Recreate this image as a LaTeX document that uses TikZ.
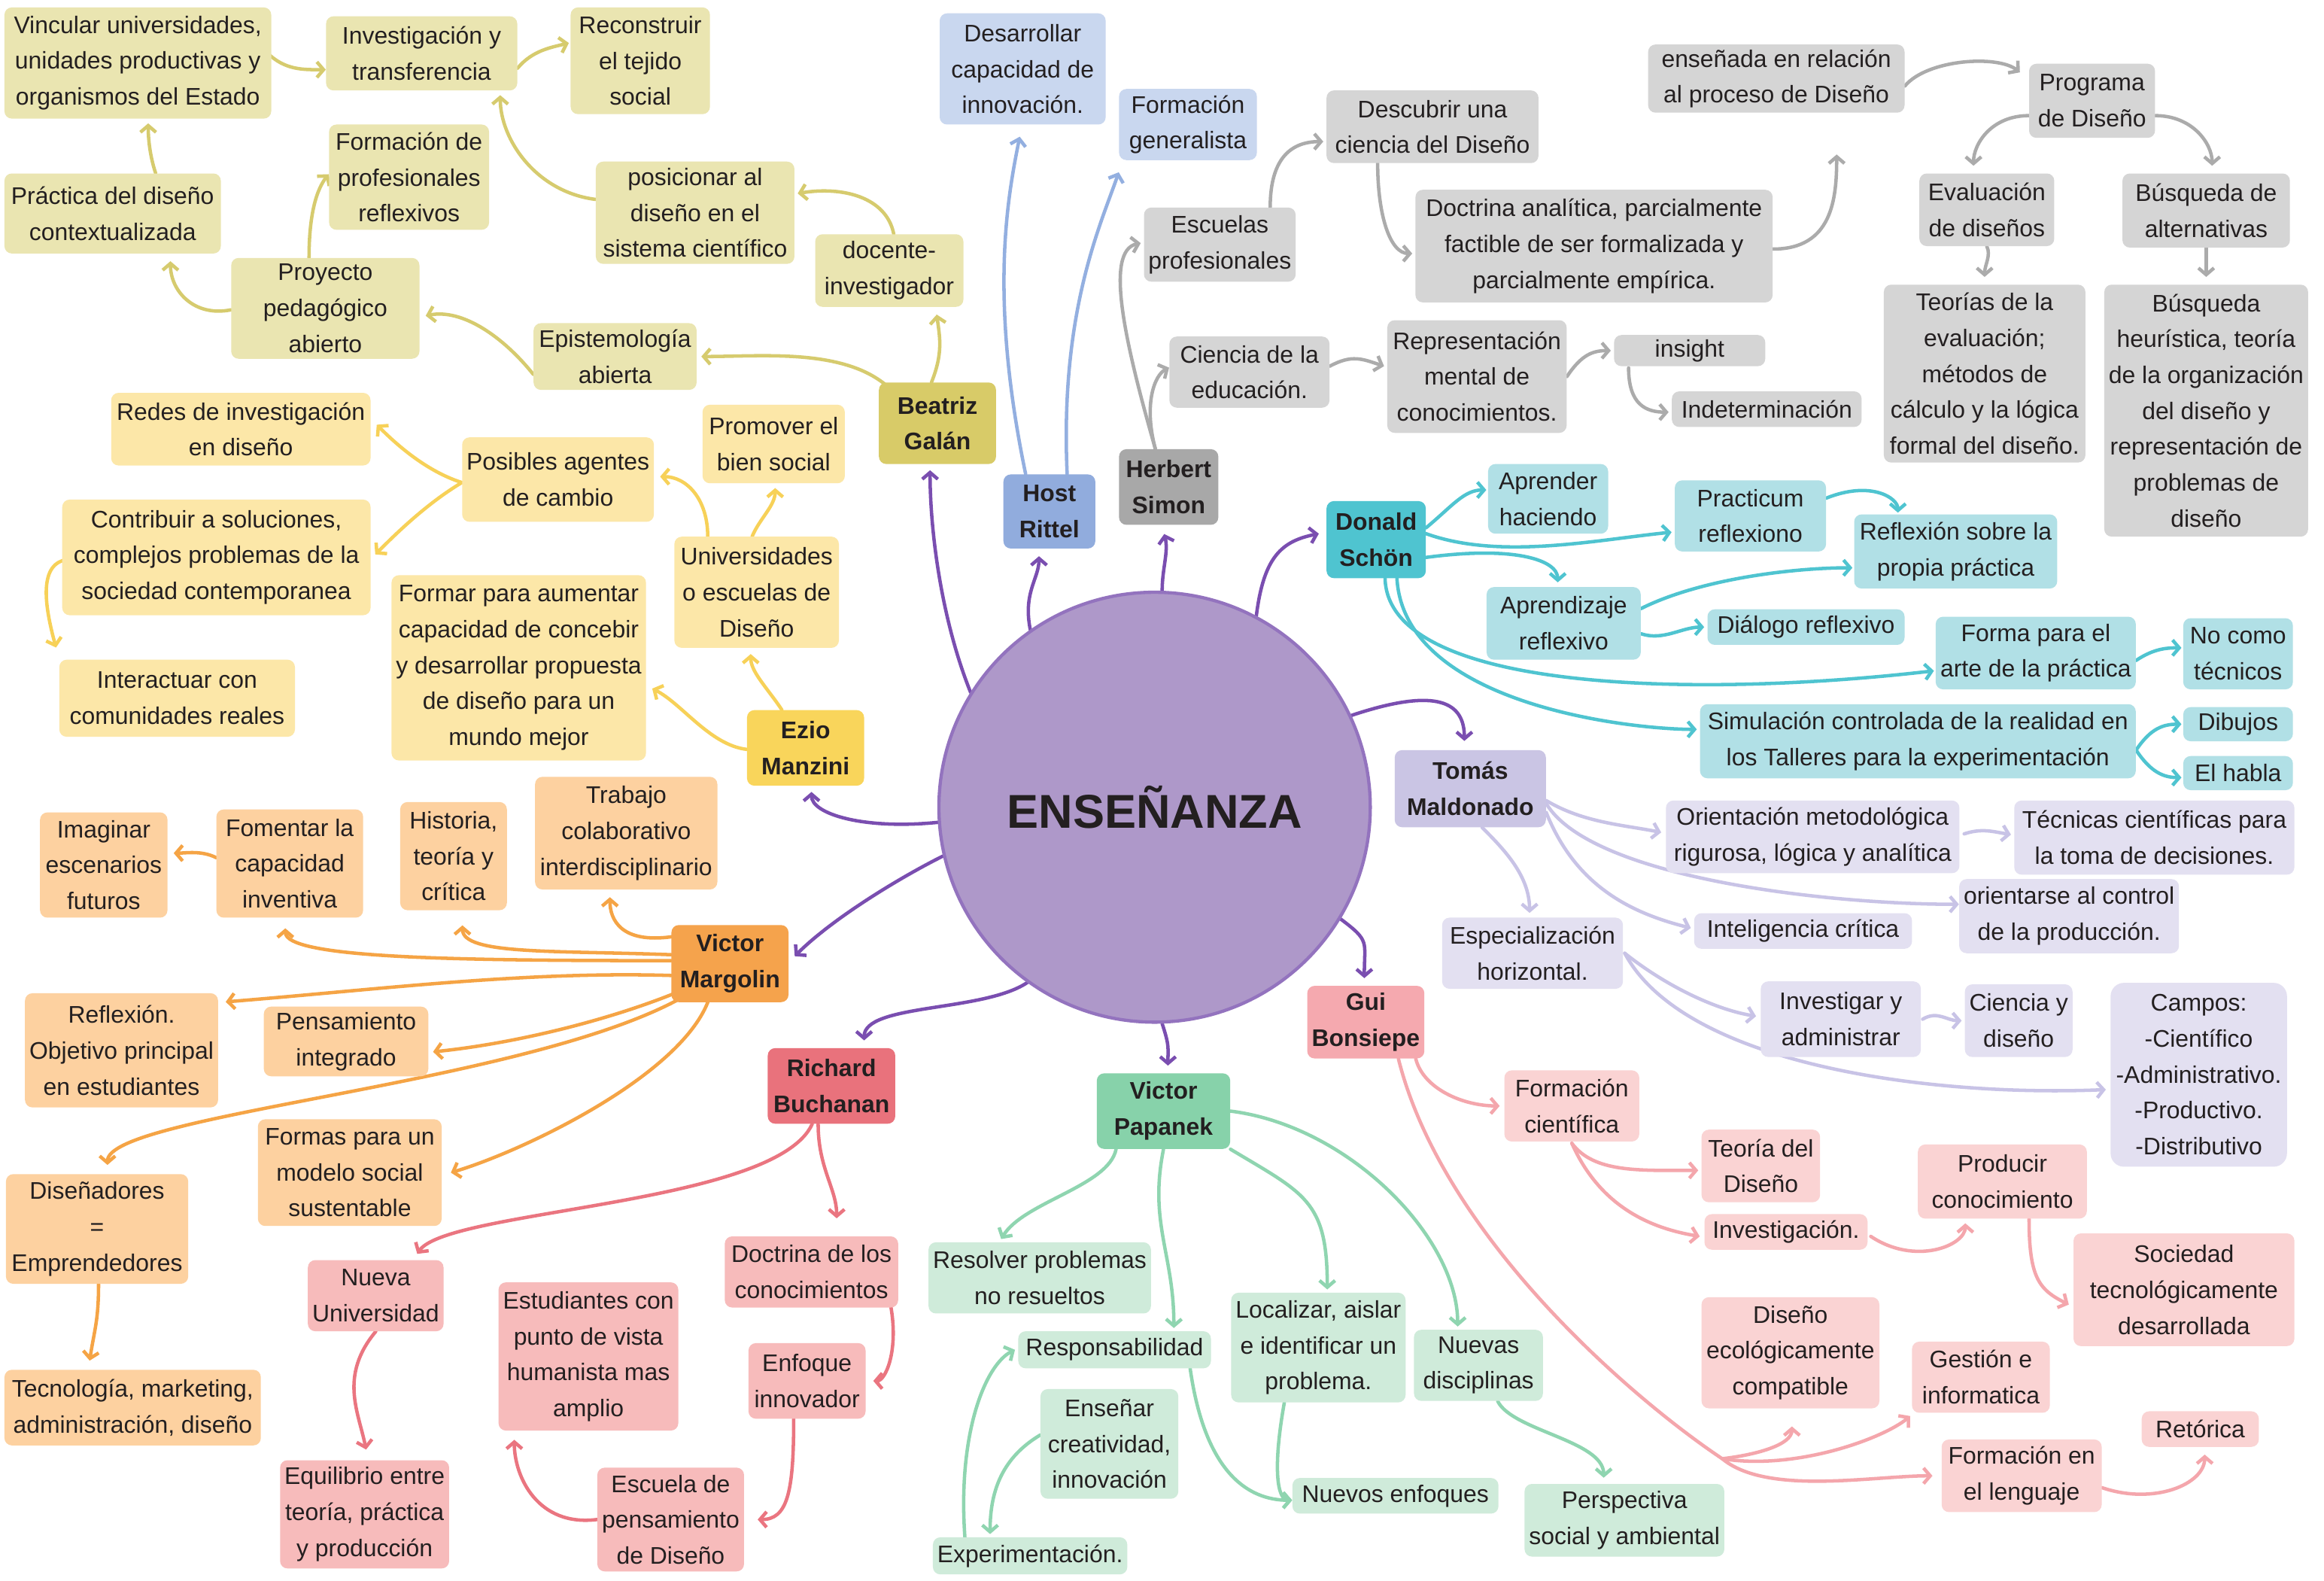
\documentclass[tikz,border=0pt]{standalone}
\usepackage{fontspec}
\setmainfont{Liberation Sans}
\usetikzlibrary{arrows.meta,shapes.geometric,calc}
\pgfdeclarelayer{edges}
\pgfsetlayers{edges,main}

\newcommand{\mfs}{\fontsize{16.2}{24.2}\selectfont}

\definecolor{txt}{HTML}{231F20}
\definecolor{olL}{HTML}{EAE5B1}\definecolor{olD}{HTML}{D8CB68}\definecolor{olA}{HTML}{D6CB6E}
\definecolor{yeL}{HTML}{FCE7A8}\definecolor{yeD}{HTML}{F9D55B}\definecolor{yeA}{HTML}{F7D158}
\definecolor{orL}{HTML}{FDD1A0}\definecolor{orD}{HTML}{F5A34C}\definecolor{orA}{HTML}{F5A445}
\definecolor{reL}{HTML}{F7BBBB}\definecolor{reD}{HTML}{E9727C}\definecolor{reA}{HTML}{EA7580}
\definecolor{grL}{HTML}{CFEBDA}\definecolor{grD}{HTML}{87D2AA}\definecolor{grA}{HTML}{8FD5B0}
\definecolor{piL}{HTML}{FAD3D3}\definecolor{piD}{HTML}{F5A9AF}\definecolor{piA}{HTML}{F4A6AC}
\definecolor{laL}{HTML}{E3E0F1}\definecolor{laD}{HTML}{CAC5E4}\definecolor{laA}{HTML}{C8C3E6}
\definecolor{cyL}{HTML}{B1E0E6}\definecolor{cyD}{HTML}{4FC4D0}\definecolor{cyA}{HTML}{4FC4D0}
\definecolor{gyL}{HTML}{D5D5D5}\definecolor{gyD}{HTML}{A8A8A8}\definecolor{gyA}{HTML}{ABABAB}
\definecolor{blL}{HTML}{C9D7EF}\definecolor{blD}{HTML}{91ACDD}\definecolor{blA}{HTML}{93AFE0}
\definecolor{puA}{HTML}{7A4EB0}
\definecolor{ctrF}{HTML}{AE98C9}\definecolor{ctrB}{HTML}{9373BE}

\tikzset{
  box/.style={rounded corners=5pt, inner xsep=3pt, inner ysep=1pt, align=center, text=txt, font=\mfs},
  root/.style={box, font=\mfs\bfseries},
  sz/.style 2 args={minimum width=#1pt, minimum height=#2pt},
  lnk/.style={line width=2.3pt, line cap=round, -{Straight Barb[length=4.5pt,width=10.5pt]}},
  nOl/.style={box, fill=olL}, rOl/.style={root, fill=olD}, eOl/.style={lnk, draw=olA},
  nYe/.style={box, fill=yeL}, rYe/.style={root, fill=yeD}, eYe/.style={lnk, draw=yeA},
  nOr/.style={box, fill=orL}, rOr/.style={root, fill=orD}, eOr/.style={lnk, draw=orA},
  nRe/.style={box, fill=reL}, rRe/.style={root, fill=reD}, eRe/.style={lnk, draw=reA},
  nGr/.style={box, fill=grL}, rGr/.style={root, fill=grD}, eGr/.style={lnk, draw=grA},
  nPi/.style={box, fill=piL}, rPi/.style={root, fill=piD}, ePi/.style={lnk, draw=piA},
  nLa/.style={box, fill=laL}, rLa/.style={root, fill=laD}, eLa/.style={lnk, draw=laA},
  nCy/.style={box, fill=cyL}, rCy/.style={root, fill=cyD}, eCy/.style={lnk, draw=cyA},
  nGy/.style={box, fill=gyL}, rGy/.style={root, fill=gyD}, eGy/.style={lnk, draw=gyA},
  nBl/.style={box, fill=blL}, rBl/.style={root, fill=blD}, eBl/.style={lnk, draw=blA},
  ePu/.style={lnk, draw=puA},
}

\begin{document}
\begin{tikzpicture}[x=1pt, y=-1pt]
\useasboundingbox (0,0) rectangle (1568,1066);
\begin{pgfonlayer}{edges}
\fill[white] (0,0) rectangle (1568,1066);
\end{pgfonlayer}

% centre
\node[ellipse, fill=ctrF, draw=ctrB, line width=2.2pt, minimum width=278pt, minimum height=290pt,
      font=\fontsize{32}{36}\selectfont\bfseries, text=txt] (cen) at (779,544.5) {ENSEÑANZA};

% Beatriz Galán
\node[nOl, sz={180}{75}] (vinc) at (93,42.5) {Vincular universidades,\\unidades productivas y\\organismos del Estado};
\node[nOl, sz={129}{50}] (invt) at (284.5,36) {Investigación y\\transferencia};
\node[nOl, sz={94}{72}] (recon) at (432,41) {Reconstruir\\el tejido\\social};
\node[nOl, sz={146}{54}] (prac) at (76,144) {Práctica del diseño\\contextualizada};
\node[nOl, sz={108}{71}] (fprof) at (276,119.5) {Formación de\\profesionales\\reflexivos};
\node[nOl, sz={134}{69}] (posic) at (469,143.5) {posicionar al\\diseño en el\\sistema científico};
\node[nOl, sz={100}{49}] (doc) at (600,182.5) {docente-\\investigador};
\node[nOl, sz={127}{68}] (proy) at (219.5,208) {Proyecto\\pedagógico\\abierto};
\node[nOl, sz={110}{45}] (epis) at (415,240.5) {Epistemología\\abierta};
\node[rOl, sz={79}{55}] (bg) at (632.5,285.5) {Beatriz\\Galán};

% Ezio Manzini
\node[nYe, sz={175}{49}] (redes) at (162.5,289.5) {Redes de investigación\\en diseño};
\node[nYe, sz={129}{57}] (posib) at (376.5,323.5) {Posibles agentes\\de cambio};
\node[nYe, sz={96}{53}] (promo) at (522,299.5) {Promover el\\bien social};
\node[nYe, sz={208}{78}] (contr) at (146,376) {Contribuir a soluciones,\\complejos problemas de la\\sociedad contemporanea};
\node[nYe, sz={111}{75}] (univ) at (510.5,399.5) {Universidades\\o escuelas de\\Diseño};
\node[nYe, sz={168}{125}] (formar) at (350,450.5) {Formar para aumentar\\capacidad de concebir\\y desarrollar propuesta\\de diseño para un\\mundo mejor};
\node[nYe, sz={159}{52}] (inter) at (119.5,471) {Interactuar con\\comunidades reales};
\node[rYe, sz={79}{51}] (ezio) at (543.5,504.5) {Ezio\\Manzini};

% Herbert Simon
\node[rGy, sz={67}{51}] (hs) at (788.5,328.5) {Herbert\\Simon};
\node[nGy, sz={100}{50}] (escu) at (823,165) {Escuelas\\profesionales};
\node[nGy, sz={143}{49}] (desc) at (966.5,85.5) {Descubrir una\\ciencia del Diseño};
\node[nGy, sz={241}{76}] (doct) at (1075.5,166) {Doctrina analítica, parcialmente\\factible de ser formalizada y\\parcialmente empírica.};
\node[nGy, sz={173}{46}] (ense) at (1198.5,53) {enseñada en relación\\al proceso de Diseño};
\node[nGy, sz={85}{50}] (prog) at (1411.5,68) {Programa\\de Diseño};
\node[nGy, sz={91}{49}] (eval) at (1340.5,141.5) {Evaluación\\de diseños};
\node[nGy, sz={113}{50}] (busq) at (1488.5,142) {Búsqueda de\\alternativas};
\node[nGy, sz={136}{120}] (teor) at (1339,252) {Teorías de la\\evaluación;\\métodos de\\cálculo y la lógica\\formal del diseño.};
\node[nGy, sz={137}{170}] (heur) at (1488.5,277) {Búsqueda\\heurística, teoría\\de la organización\\del diseño y\\representación de\\problemas de\\diseño};
\node[nGy, sz={108}{48}] (cied) at (843,251) {Ciencia de la\\educación.};
\node[nGy, sz={121}{76}] (repr) at (996.5,254) {Representación\\mental de\\conocimientos.};
\node[nGy, sz={102}{21}] (insi) at (1140,236.5) {insight};
\node[nGy, sz={128}{24}] (inde) at (1192,276) {Indeterminación};

% Host Rittel
\node[rBl, sz={62}{50}] (hr) at (708,345) {Host\\Rittel};
\node[nBl, sz={112}{75}] (desa) at (690,46.5) {Desarrollar\\capacidad de\\innovación.};
\node[nBl, sz={93}{48}] (fgen) at (801.5,84) {Formación\\generalista};

% Donald Schön
\node[rCy, sz={67}{52}] (ds) at (928.5,364) {Donald\\Schön};
\node[nCy, sz={81}{47}] (apre) at (1044.5,336.5) {Aprender\\haciendo};
\node[nCy, sz={102}{48}] (prac2) at (1181,348) {Practicum\\reflexiono};
\node[nCy, sz={137}{50}] (refl) at (1319.5,372) {Reflexión sobre la\\propia práctica};
\node[nCy, sz={104}{49}] (apr2) at (1055,420.5) {Aprendizaje\\reflexivo};
\node[nCy, sz={133}{24}] (dial) at (1218.5,423) {Diálogo reflexivo};
\node[nCy, sz={135}{49}] (forma) at (1373.5,440.5) {Forma para el\\arte de la práctica};
\node[nCy, sz={74}{48}] (nocomo) at (1510,441) {No como\\técnicos};
\node[nCy, sz={294}{50}] (simu) at (1294,500) {Simulación controlada de la realidad en\\los Talleres para la experimentación};
\node[nCy, sz={74}{23}] (dibu) at (1510,488.5) {Dibujos};
\node[nCy, sz={74}{23}] (habla) at (1510,521.5) {El habla};

% Tomás Maldonado
\node[rLa, sz={102}{52}] (tm) at (992,532) {Tomás\\Maldonado};
\node[nLa, sz={198}{49}] (orien) at (1223,564.5) {Orientación metodológica\\rigurosa, lógica y analítica};
\node[nLa, sz={189}{50}] (tecn) at (1453.5,565) {Técnicas científicas para\\la toma de decisiones.};
\node[nLa, sz={148}{50}] (ocont) at (1396,618) {orientarse al control\\de la producción.};
\node[nLa, sz={147}{24}] (intel) at (1216.5,628) {Inteligencia crítica};
\node[nLa, sz={122}{48}] (espe) at (1034,643) {Especialización\\horizontal.};
\node[nLa, sz={108}{51}] (inva) at (1242,687.5) {Investigar y\\administrar};
\node[nLa, sz={72}{49}] (cydi) at (1362,688.5) {Ciencia y\\diseño};
\node[nLa, sz={119}{124}, rounded corners=9pt] (camp) at (1483.5,725) {Campos:\\-Científico\\-Administrativo.\\-Productivo.\\-Distributivo};

% Gui Bonsiepe
\node[rPi, sz={79}{49}] (gb) at (921.5,689.5) {Gui\\Bonsiepe};
\node[nPi, sz={91}{48}] (fcie) at (1060.5,746) {Formación\\científica};
\node[nPi, sz={80}{49}] (tdis) at (1188,786.5) {Teoría del\\Diseño};
\node[nPi, sz={110}{24}] (invs) at (1205,831) {Investigación.};
\node[nPi, sz={114}{50}] (prod) at (1351,797) {Producir\\conocimiento};
\node[nPi, sz={149}{76}] (soc) at (1473.5,870) {Sociedad\\tecnológicamente\\desarrollada};
\node[nPi, sz={120}{75}] (deco) at (1208,912.5) {Diseño\\ecológicamente\\compatible};
\node[nPi, sz={93}{48}] (gest) at (1336.5,929) {Gestión e\\informatica};
\node[nPi, sz={108}{49}] (flen) at (1364,995.5) {Formación en\\el lenguaje};
\node[nPi, sz={79}{24}] (reto) at (1484.5,964) {Retórica};

% Victor Papanek
\node[rGr, sz={90}{51}] (vp) at (785,749.5) {Victor\\Papanek};
\node[nGr, sz={149}{48}] (reso) at (701.5,862) {Resolver problemas\\no resueltos};
\node[nGr, sz={130}{25}] (resp) at (752,910.5) {Responsabilidad};
\node[nGr, sz={115}{74}] (loca) at (889.5,909) {Localizar, aislar\\e identificar un\\problema.};
\node[nGr, sz={87}{48}] (nuev) at (997.5,921) {Nuevas\\disciplinas};
\node[nGr, sz={93}{74}] (ense2) at (748.5,974) {Enseñar\\creatividad,\\innovación};
\node[nGr, sz={139}{24}] (nenf) at (941.5,1009) {Nuevos enfoques};
\node[nGr, sz={132}{49}] (pers) at (1096,1025.5) {Perspectiva\\social y ambiental};
\node[nGr, sz={130}{25}] (expe) at (695,1049.5) {Experimentación.};

% Richard Buchanan
\node[rRe, sz={86}{51}] (rb) at (561,732.5) {Richard\\Buchanan};
\node[nRe, sz={89}{48}] (nuni) at (253.5,874) {Nueva\\Universidad};
\node[nRe, sz={117}{48}] (dcon) at (547.5,858) {Doctrina de los\\conocimientos};
\node[nRe, sz={118}{100}] (estu) at (397,915) {Estudiantes con\\punto de vista\\humanista mas\\amplio};
\node[nRe, sz={79}{51}] (enfo) at (544.5,931.5) {Enfoque\\innovador};
\node[nRe, sz={112}{73}] (equi) at (246,1021.5) {Equilibrio entre\\teoría, práctica\\y producción};
\node[nRe, sz={99}{70}] (escp) at (452.5,1025) {Escuela de\\pensamiento\\de Diseño};

% Victor Margolin
\node[rOr, sz={79}{52}] (vm) at (492.5,650) {Victor\\Margolin};
\node[nOr, sz={86}{71}] (imag) at (70,583.5) {Imaginar\\escenarios\\futuros};
\node[nOr, sz={99}{73}] (fome) at (195.5,582.5) {Fomentar la\\capacidad\\inventiva};
\node[nOr, sz={72}{73}] (hist) at (306,577.5) {Historia,\\teoría y\\crítica};
\node[nOr, sz={123}{76}] (trab) at (422.5,562) {Trabajo\\colaborativo\\interdisciplinario};
\node[nOr, sz={130}{77}] (refx) at (82,708.5) {Reflexión.\\Objetivo principal\\en estudiantes};
\node[nOr, sz={111}{47}] (pens) at (233.5,702.5) {Pensamiento\\integrado};
\node[nOr, sz={124}{72}] (form2) at (236,791) {Formas para un\\modelo social\\sustentable};
\node[nOr, sz={123}{74}] (dise) at (65.5,829) {Diseñadores\\=\\Emprendedores};
\node[nOr, sz={173}{51}] (tecm) at (89.5,949.5) {Tecnología, marketing,\\administración, diseño};

\coordinate (gsplit) at (1162,984);

\begin{pgfonlayer}{edges}
% Beatriz Galán
\draw[eOl] ($(vinc.east)+(-3,-7)$) .. controls +(12,12) and +(-15,0) .. ($(invt.west)+(0,11)$);
\draw[eOl] ($(invt.east)+(0,10)$) .. controls +(10,-12) and +(-12,3) .. ($(recon.west)+(-1,-12)$);
\draw[eOl] ($(posic.west)+(0,-9)$) .. controls +(-40,-5) and +(0,30) .. ($(invt.south)+(53,3)$);
\draw[eOl] ($(doc.north)+(3,0)$) .. controls +(-5,-25) and +(30,-5) .. ($(posic.east)+(2,-13)$);
\draw[eOl] ($(bg.north)+(-4,0)$) .. controls +(8,-20) and +(2,15) .. ($(doc.south)+(32,5)$);
\draw[eOl] ($(bg.north west)+(5,2)$) .. controls +(-30,-25) and +(40,0) .. ($(epis.east)+(3,0)$);
\draw[eOl] ($(epis.west)+(0,12)$) .. controls +(-20,-25) and +(25,-5) .. ($(proy.east)+(4,5)$);
\draw[eOl] ($(proy.west)+(0,1)$) .. controls +(-25,5) and +(0,20) .. ($(prac.south)+(39,5)$);
\draw[eOl] ($(proy.north)+(-11,0)$) .. controls +(0,-30) and +(-8,10) .. ($(fprof.west)+(0,-2)$);
\draw[eOl] ($(prac.north)+(29,0)$) .. controls +(-4,-12) and +(0,10) .. ($(vinc.south)+(7,3)$);

% Ezio Manzini
\draw[eYe] ($(ezio.north)+(-16,0)$) .. controls +(-10,-15) and +(0,12) .. ($(univ.south)+(-4,4)$);
\draw[eYe] ($(ezio.west)+(0,1)$) .. controls +(-25,-3) and +(20,10) .. ($(formar.east)+(4,14)$);
\draw[eYe] ($(univ.north)+(-3,0)$) .. controls +(5,-12) and +(0,12) .. ($(promo.south)+(1,3)$);
\draw[eYe] ($(univ.north)+(-33,0)$) .. controls +(0,-25) and +(18,0) .. ($(posib.east)+(4,-2)$);
\draw[eYe] ($(posib.west)+(0,2)$) .. controls +(-25,-8) and +(12,12) .. ($(redes.east)+(4,-3)$);
\draw[eYe] ($(posib.west)+(0,2)$) .. controls +(-25,15) and +(12,-12) .. ($(contr.east)+(3,-2)$);
\draw[eYe] ($(contr.west)+(1,2)$) .. controls +(-18,5) and +(-6,-22) .. ($(inter.north west)+(-2,-8)$);

% Herbert Simon
\draw[eGy] ($(hs.north)+(-9,0)$) .. controls +(-20,-70) and +(-25,5) .. ($(escu.west)+(-2,-1)$);
\draw[eGy] ($(hs.north)+(-9,0)$) .. controls +(-8,-30) and +(-10,5) .. ($(cied.west)+(0,-3)$);
\draw[eGy] ($(escu.north)+(34,0)$) .. controls +(0,-35) and +(-20,0) .. ($(desc.west)+(-2,10)$);
\draw[eGy] ($(desc.south)+(-37,0)$) .. controls +(0,35) and +(-15,0) .. ($(doct.west)+(-2,5)$);
\draw[eGy] ($(doct.east)+(0,2)$) .. controls +(40,0) and +(0,30) .. ($(ense.south east)+(-46,28)$);
\draw[eGy] ($(ense.east)+(0,5)$) .. controls +(15,-18) and +(-15,-12) .. ($(prog.north west)+(-6,6)$);
\draw[eGy] ($(prog.west)+(0,10)$) .. controls +(-25,0) and +(0,-15) .. ($(eval.north)+(-9,-5)$);
\draw[eGy] ($(prog.east)+(0,10)$) .. controls +(25,0) and +(0,-15) .. ($(busq.north)+(4,-5)$);
\draw[eGy] (eval.south) .. controls +(3,6) and +(0,-8) .. ($(teor.north)+(0,-5)$);
\draw[eGy] (busq.south) -- ($(heur.north)+(0,-5)$);
\draw[eGy] ($(cied.east)+(0,-4)$) .. controls +(15,-8) and +(-15,-5) .. ($(repr.west)+(-2,-7)$);
\draw[eGy] (repr.east) .. controls +(10,-15) and +(-12,0) .. ($(insi.west)+(-2,0)$);
\draw[eGy] ($(insi.south west)+(10,1)$) .. controls +(0,25) and +(-15,0) .. ($(inde.west)+(-2,2)$);

% Host Rittel
\draw[eBl] ($(hr.north)+(-16,0)$) .. controls +(-25,-120) and +(-8,40) .. ($(desa.south)+(-2,8)$);
\draw[eBl] ($(hr.north)+(12,0)$) .. controls +(-5,-110) and +(-12,35) .. ($(fgen.south west)+(0,8)$);

% Donald Schön
\draw[eCy] ($(ds.east)+(0,-8)$) .. controls +(18,-15) and +(-15,0) .. ($(apre.west)+(-1,-6)$);
\draw[eCy] ($(ds.east)+(0,-4)$) .. controls +(50,18) and +(-50,5) .. ($(prac2.west)+(-2,11)$);
\draw[eCy] ($(ds.east)+(0,12)$) .. controls +(60,-8) and +(0,-15) .. ($(apr2.north)+(-4,-3)$);
\draw[eCy] ($(prac2.east)+(0,-12)$) .. controls +(30,-12) and +(0,-10) .. ($(refl.north)+(-39,-1)$);
\draw[eCy] ($(apr2.east)+(0,-10)$) .. controls +(40,-20) and +(-40,0) .. ($(refl.west)+(-1,11)$);
\draw[eCy] ($(apr2.east)+(0,7)$) .. controls +(15,5) and +(-15,0) .. ($(dial.west)+(-2,0)$);
\draw[eCy] ($(ds.south)+(6,0)$) .. controls +(2,78) and +(-155,18) .. ($(forma.west)+(-1,12)$);
\draw[eCy] ($(ds.south)+(14,0)$) .. controls +(5,85) and +(-45,0) .. ($(simu.west)+(-2,-8)$);
\draw[eCy] ($(forma.east)+(0,5)$) .. controls +(12,-8) and +(-10,0) .. ($(nocomo.west)+(-1,-4)$);
\draw[eCy] ($(simu.east)+(0,6)$) .. controls +(10,-15) and +(-12,0) .. ($(dibu.west)+(-1,0)$);
\draw[eCy] ($(simu.east)+(0,6)$) .. controls +(10,15) and +(-12,0) .. ($(habla.west)+(-1,3)$);

% Tomás Maldonado
\draw[eLa] ($(tm.east)+(0,8)$) .. controls +(25,15) and +(-25,-5) .. ($(orien.west)+(-3,-3)$);
\draw[eLa] ($(orien.east)+(3,-2)$) .. controls +(12,-4) and +(-12,-2) .. ($(tecn.west)+(-2,-2)$);
\draw[eLa] ($(tm.east)+(0,10)$) .. controls +(30,50) and +(-90,0) .. ($(ocont.west)+(0,-8)$);
\draw[eLa] ($(tm.east)+(0,16)$) .. controls +(20,50) and +(-40,-10) .. ($(intel.west)+(-2,-2)$);
\draw[eLa] ($(tm.south)+(8,0)$) .. controls +(15,15) and +(0,-25) .. ($(espe.north)+(-2,-3)$);
\draw[eLa] ($(espe.east)+(1,0)$) .. controls +(25,20) and +(-30,-5) .. ($(inva.west)+(-3,-2)$);
\draw[eLa] ($(espe.east)+(1,0)$) .. controls +(40,75) and +(-120,5) .. ($(camp.west)+(-3,10)$);
\draw[eLa] ($(inva.east)+(1,0)$) .. controls +(10,-6) and +(-10,0) .. ($(cydi.west)+(-2,0)$);

% Gui Bonsiepe
\draw[ePi] ($(gb.south east)+(-6,0)$) .. controls +(5,20) and +(-25,0) .. ($(fcie.west)+(-3,0)$);
\draw[ePi, -] ($(gb.south)+(22,0)$) .. controls +(30,120) and +(-60,-40) .. (gsplit);
\draw[ePi] (gsplit) .. controls +(25,-3) and +(0,12) .. ($(deco.south)+(1,12)$);
\draw[ePi] (gsplit) .. controls +(50,8) and +(-18,15) .. ($(gest.south west)+(-1,2)$);
\draw[ePi] (gsplit) .. controls +(30,25) and +(-40,0) .. ($(flen.west)+(-6,0)$);
\draw[ePi] ($(fcie.south)+(0,1)$) .. controls +(15,20) and +(-40,0) .. ($(tdis.west)+(-2,3)$);
\draw[ePi] ($(fcie.south)+(0,1)$) .. controls +(20,45) and +(-30,-5) .. ($(invs.west)+(-3,3)$);
\draw[ePi] ($(invs.east)+(2,3)$) .. controls +(30,20) and +(0,15) .. ($(prod.south)+(-25,3)$);
\draw[ePi] ($(prod.south)+(18,0)$) .. controls +(0,40) and +(-20,-10) .. ($(soc.west)+(-3,10)$);
\draw[ePi] ($(flen.east)+(0,8)$) .. controls +(35,12) and +(0,20) .. ($(reto.south)+(3,5)$);

% Victor Papanek
\draw[eGr] ($(vp.south)+(-32,0)$) .. controls +(-5,25) and +(15,-25) .. ($(reso.north)+(-26,-2)$);
\draw[eGr] (vp.south) .. controls +(-10,50) and +(0,-50) .. ($(resp.north)+(40,-2)$);
\draw[eGr] (vp.south east) .. controls +(50,30) and +(0,-60) .. ($(loca.north)+(6,-2)$);
\draw[eGr] (vp.east) .. controls +(80,10) and +(0,-60) .. ($(nuev.north)+(-14,-2)$);
\draw[eGr] ($(resp.south)+(51,0)$) .. controls +(10,70) and +(-30,0) .. ($(nenf.west)+(0,3)$);
\draw[eGr] ($(loca.south)+(-23,0)$) .. controls +(-8,45) and +(-10,0) .. ($(nenf.west)+(0,3)$);
\draw[eGr] ($(nuev.south)+(13,0)$) .. controls +(10,20) and +(0,-25) .. ($(pers.north)+(-14,-4)$);
\draw[eGr] ($(expe.north)+(-44,0)$) .. controls +(-5,-70) and +(-20,10) .. ($(resp.west)+(-2,0)$);
\draw[eGr] ($(ense2.west)+(0,-6)$) .. controls +(-25,15) and +(0,-30) .. ($(expe.north)+(-27,-2)$);

% Richard Buchanan
\draw[eRe] ($(rb.south)+(-13,0)$) .. controls +(-25,55) and +(20,-30) .. ($(nuni.north)+(28,-4)$);
\draw[eRe] ($(rb.south)+(-9,0)$) .. controls +(0,30) and +(0,-20) .. ($(dcon.north)+(17,-12)$);
\draw[eRe] ($(dcon.south east)+(-5,0)$) .. controls +(5,30) and +(8,0) .. ($(enfo.east)+(5,0)$);
\draw[eRe] ($(enfo.south)+(-9,0)$) .. controls +(0,50) and +(20,0) .. ($(escp.east)+(9,0)$);
\draw[eRe] (escp.west) .. controls +(-40,5) and +(0,25) .. ($(estu.south)+(-50,6)$);
\draw[eRe] (nuni.south) .. controls +(-25,30) and +(-5,-25) .. ($(equi.north)+(1,-7)$);

% Victor Margolin
\draw[eOr] ($(vm.north west)+(1,8)$) .. controls +(-35,5) and +(0,15) .. ($(trab.south)+(-11,5)$);
\draw[eOr] ($(vm.west)+(0,-6)$) .. controls +(-80,-3) and +(0,20) .. ($(hist.south)+(6,10)$);
\draw[eOr] ($(vm.west)+(0,-2)$) .. controls +(-150,0) and +(0,20) .. ($(fome.south)+(-3,7)$);
\draw[eOr] ($(fome.west)+(0,-4)$) .. controls +(-10,-5) and +(8,0) .. ($(imag.east)+(4,-8)$);
\draw[eOr] ($(vm.west)+(0,8)$) .. controls +(-100,-3) and +(100,-8) .. ($(refx.north east)+(5,6)$);
\draw[eOr] ($(vm.south west)+(2,-6)$) .. controls +(-50,20) and +(50,-5) .. ($(pens.east)+(3,7)$);
\draw[eOr] ($(vm.south)+(-15,0)$) .. controls +(-20,50) and +(50,-15) .. ($(form2.east)+(6,0)$);
\draw[eOr] ($(vm.south west)+(5,-2)$) .. controls +(-108,58) and +(0,-34) .. ($(dise.north)+(7,-6)$);
\draw[eOr] ($(dise.south)+(1,0)$) .. controls +(0,25) and +(3,-20) .. ($(tecm.north)+(-29,-6)$);

% from the centre
\draw[ePu] (cen.148) .. controls +(-20,-50) and +(0,40) .. ($(bg.south)+(-5,4)$);
\draw[ePu] (cen.125) .. controls +(-5,-25) and +(0,15) .. ($(hr.south)+(-7,5)$);
\draw[ePu] (cen.88) .. controls +(0,-15) and +(3,12) .. ($(hs.south)+(-3,6)$);
\draw[ePu] (cen.62) .. controls +(5,-40) and +(-25,5) .. ($(ds.west)+(-5,-4)$);
\draw[ePu] (cen.25) .. controls +(60,-20) and +(0,-25) .. ($(tm.north)+(-4,-6)$);
\draw[ePu] (cen.-31) .. controls +(20,15) and +(0,-25) .. ($(gb.north)+(-1,-5)$);
\draw[ePu] (cen.-88) .. controls +(5,15) and +(0,-12) .. ($(vp.north)+(3,-5)$);
\draw[ePu] (cen.-126) .. controls +(-30,20) and +(0,-25) .. ($(rb.north)+(22,-5)$);
\draw[ePu] (cen.193) .. controls +(-30,15) and +(25,-25) .. ($(vm.east)+(4,-5)$);
\draw[ePu] (cen.184) .. controls +(-50,5) and +(0,15) .. ($(ezio.south)+(4,4)$);
\end{pgfonlayer}
\end{tikzpicture}
\end{document}
